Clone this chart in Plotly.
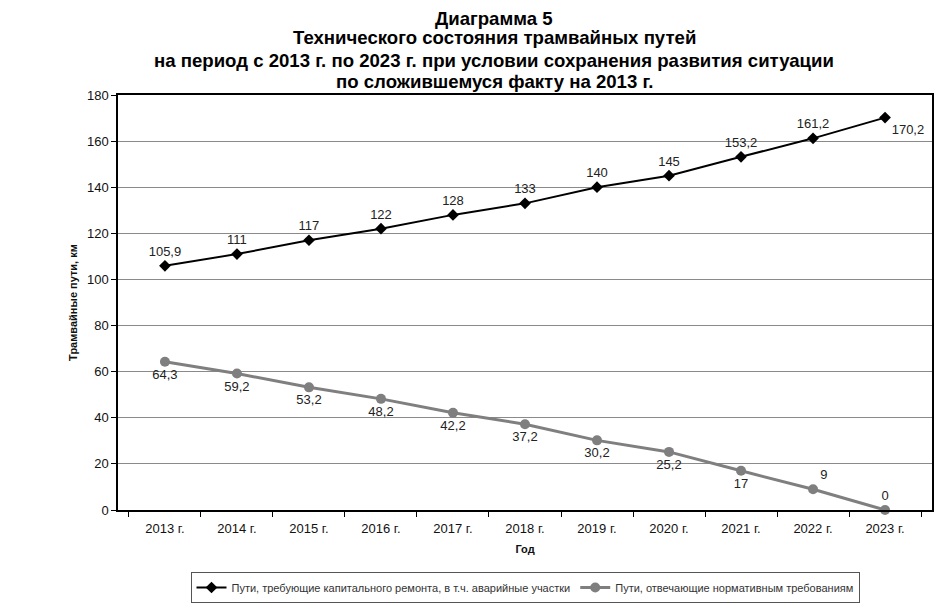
import plotly.graph_objects as go

years = ["2013 г.", "2014 г.", "2015 г.", "2016 г.", "2017 г.", "2018 г.",
         "2019 г.", "2020 г.", "2021 г.", "2022 г.", "2023 г."]
repair = [105.9, 111, 117, 122, 128, 133, 140, 145, 153.2, 161.2, 170.2]
normal = [64.3, 59.2, 53.2, 48.2, 42.2, 37.2, 30.2, 25.2, 17, 9, 0]
y_ticks = [0, 20, 40, 60, 80, 100, 120, 140, 160, 180]

title_lines = [
    "Диаграмма 5",
    "Технического состояния трамвайных путей",
    "на период с 2013 г. по 2023 г. при условии сохранения развития ситуации",
    "по сложившемуся факту на 2013 г.",
]
name_repair = "Пути, требующие капитального ремонта, в т.ч. аварийные участки"
name_normal = "Пути, отвечающие нормативным требованиям"


def fmt(v):
    return ("%g" % v).replace(".", ",")


repair_pos = ["top center"] * (len(repair) - 1) + ["bottom right"]
normal_pos = ["bottom center"] * (len(normal) - 2) + ["top right", "top center"]

FONT = "Liberation Sans, Arial, sans-serif"

# figure geometry (page body adds an 8px offset)
W, H = 932, 595
ML, MR, MT, MB = 110, 8, 87, 93
PH = H - MT - MB
PW = W - ML - MR

fig = go.Figure()
fig.add_trace(go.Scatter(
    x=years, y=repair, name=name_repair, mode="lines+markers+text",
    line=dict(color="#000000", width=2),
    marker=dict(symbol="diamond", size=9, color="#000000"),
    text=[fmt(v) for v in repair], textposition=repair_pos,
    textfont=dict(size=13, color="#222222", family=FONT),
    cliponaxis=False,
))
fig.add_trace(go.Scatter(
    x=years, y=normal, name=name_normal, mode="lines+markers+text",
    line=dict(color="#7f7f7f", width=3),
    marker=dict(symbol="circle", size=10, color="#7f7f7f"),
    text=[fmt(v) for v in normal], textposition=normal_pos,
    textfont=dict(size=13, color="#222222", family=FONT),
    cliponaxis=False,
))

annotations = []
centers = [10.5, 30, 52, 74]
for line, cy in zip(title_lines, centers):
    annotations.append(dict(
        text="<b>" + line + "</b>", xref="paper", yref="paper",
        x=(486 - ML) / PW, y=(H - MB - cy) / PH, xanchor="center", yanchor="middle",
        showarrow=False, font=dict(size=18.6, family=FONT, color="#000000"),
        borderpad=0,
    ))

fig.update_layout(
    width=W, height=H,
    margin=dict(l=ML, r=MR, t=MT, b=MB, autoexpand=False),
    paper_bgcolor="white", plot_bgcolor="white",
    font=dict(family=FONT, color="#111111"),
    annotations=annotations,
    showlegend=True,
    legend=dict(
        orientation="h", x=(517 - ML) / PW, xanchor="center",
        y=-(564 - (H - MB)) / PH, yanchor="top",
        font=dict(size=11, color="#333333"),
        bordercolor="#555555", borderwidth=1,
        itemwidth=30, tracegroupgap=0,
    ),
)
fig.update_xaxes(
    type="category", showline=True, linecolor="#000000", linewidth=1.5,
    mirror=True, ticks="outside", tickson="boundaries", ticklen=5,
    tickcolor="#000000", ticklabelstandoff=6, automargin=False,
    tickfont=dict(size=13), showgrid=False,
    title=dict(text="<b>Год</b>", font=dict(size=11), standoff=10),
)
fig.update_yaxes(
    range=[0, 180], tickvals=y_ticks, showline=True, linecolor="#000000",
    linewidth=1.5, mirror=True, ticks="outside", ticklen=5, tickcolor="#000000",
    automargin=False,
    tickfont=dict(size=13), showgrid=True, gridcolor="#8a8a8a", gridwidth=1,
    zeroline=False,
    title=dict(text="<b>Трамвайные пути, км</b>", font=dict(size=11), standoff=7),
)

fig.write_html("out.html")
